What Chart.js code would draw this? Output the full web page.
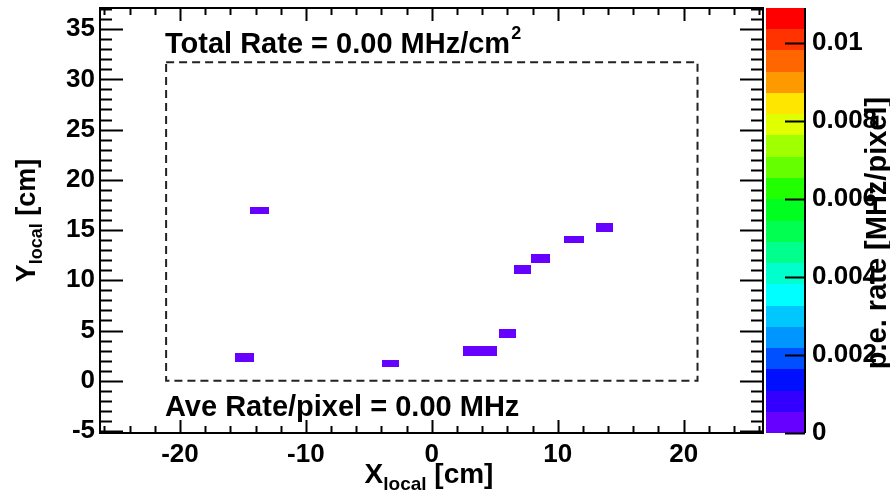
<!DOCTYPE html>
<html><head><meta charset="utf-8">
<script src="https://cdn.jsdelivr.net/npm/chart.js@4"></script>
<style>html,body{margin:0;padding:0;background:#fff}canvas{display:block}</style>
</head><body>
<canvas id="c" width="890" height="490"></canvas>
<script>
// ---- axis tick labels ----
const xTicks = [-20, -10, 0, 10, 20];
const yTicks = [-5, 0, 5, 10, 15, 20, 25, 30, 35];
const zTicks = [0, 0.002, 0.004, 0.006, 0.008, 0.01];
const zTickLabels = ['0', '0.002', '0.004', '0.006', '0.008', '0.01'];

// ---- fired pixels (bin edges in cm) and their p.e. rate [MHz/pixel] ----
const binXLow  = [-14.45, -15.6, -3.95, 2.5, 3.85, 5.35, 6.5, 7.85, 10.5, 13.0];
const binXHigh = [-12.9, -14.1, -2.6, 3.85, 5.2, 6.7, 7.85, 9.35, 12.05, 14.35];
const binYLow  = [16.6, 1.85, 1.4, 2.5, 2.5, 4.3, 10.62, 11.72, 13.7, 14.8];
const binYHigh = [17.25, 2.75, 2.08, 3.42, 3.42, 5.17, 11.52, 12.6, 14.37, 15.68];
const binRate  = [0.0001, 0.0001, 0.0001, 0.0001, 0.0001, 0.0001, 0.0001, 0.0001, 0.0001, 0.0001];

// ---- detector outline (cm) ----
const boxX = [-21.1, 21.1];
const boxY = [0, 31.7];

// ---- annotations ----
const totalRateText = ['Total Rate = 0.00 MHz/cm', '2'];
const aveRateText = 'Ave Rate/pixel = 0.00 MHz';
const xTitle = ['X', 'local', ' [cm]'];
const yTitle = ['Y', 'local', ' [cm]'];
const zTitle = 'p.e. rate [MHz/pixel]';

// ---- palette (bottom to top, 20 contours) ----
const paletteColors = ['#6600ff', '#3300ff', '#0010ff', '#0050ff', '#0096ff', '#00c8ff', '#00ffff', '#00ffcc', '#00ff8c', '#00ff50',
  '#00ff20', '#22ff00', '#66ff00', '#a0ff00', '#e0ff00', '#ffe600', '#ff9900', '#ff6600', '#ff3300', '#ff0000'];
const zMax = 0.01089;

const FONT = "'Liberation Sans', Arial, Helvetica, sans-serif";

function colorFor(v) {
  const idx = Math.max(0, Math.min(paletteColors.length - 1, Math.floor(v / zMax * paletteColors.length)));
  return paletteColors[idx];
}

function drawPieces(ctx, pieces, startX, baseY) {
  let cx = startX;
  for (const [t, size, dy] of pieces) {
    ctx.font = 'bold ' + size + 'px ' + FONT;
    ctx.fillText(t, cx, baseY + dy);
    cx += ctx.measureText(t).width;
  }
  return cx - startX;
}
function piecesWidth(ctx, pieces) {
  let w = 0;
  for (const [t, size] of pieces) { ctx.font = 'bold ' + size + 'px ' + FONT; w += ctx.measureText(t).width; }
  return w;
}

const rootStyle = {
  id: 'rootStyle',
  afterDraw(chart) {
    const {ctx, chartArea: a, scales: {x, y, z}} = chart;
    ctx.save();
    // bins
    for (let i = 0; i < binXLow.length; i++) {
      const px0 = Math.round(x.getPixelForValue(binXLow[i])), px1 = Math.round(x.getPixelForValue(binXHigh[i]));
      const py0 = Math.round(y.getPixelForValue(binYHigh[i])), py1 = Math.round(y.getPixelForValue(binYLow[i]));
      ctx.fillStyle = colorFor(binRate[i]);
      ctx.fillRect(px0, py0, px1 - px0, py1 - py0);
    }
    // dashed outline
    ctx.setLineDash([8, 5]);
    ctx.lineWidth = 2;
    ctx.strokeStyle = '#222';
    const bx0 = x.getPixelForValue(boxX[0]), bx1 = x.getPixelForValue(boxX[1]);
    const by0 = y.getPixelForValue(boxY[1]), by1 = y.getPixelForValue(boxY[0]);
    ctx.strokeRect(bx0, by0, bx1 - bx0, by1 - by0);
    ctx.setLineDash([]);

    // ticks (inside frame)
    ctx.strokeStyle = '#000';
    ctx.lineWidth = 2;
    ctx.beginPath();
    for (let v = Math.ceil(x.min); v <= x.max; v++) {
      if (v % 2 !== 0) continue;
      const px = Math.round(x.getPixelForValue(v)) + 0.5;
      const len = (v % 10 === 0) ? 13 : 7;
      ctx.moveTo(px, a.bottom); ctx.lineTo(px, a.bottom - len);
      ctx.moveTo(px, a.top); ctx.lineTo(px, a.top + len);
    }
    for (let v = Math.ceil(y.min); v <= y.max; v++) {
      const py = Math.round(y.getPixelForValue(v)) + 0.5;
      const len = (v % 5 === 0) ? 23 : 12;
      ctx.moveTo(a.left, py); ctx.lineTo(a.left + len, py);
      ctx.moveTo(a.right, py); ctx.lineTo(a.right - len, py);
    }
    ctx.stroke();
    // frame
    ctx.strokeRect(a.left, a.top, a.right - a.left, a.bottom - a.top);

    // palette
    const pl = a.right + 3, pr = a.right + 42;
    const n = paletteColors.length;
    for (let i = 0; i < n; i++) {
      const yb = z.getPixelForValue(zMax * i / n), yt = z.getPixelForValue(zMax * (i + 1) / n);
      ctx.fillStyle = paletteColors[i];
      ctx.fillRect(pl, Math.round(yt), pr - pl, Math.round(yb) - Math.round(yt));
    }
    ctx.beginPath();
    ctx.moveTo(pr, z.top); ctx.lineTo(pr, z.bottom);
    for (const v of zTicks) {
      const py = Math.round(z.getPixelForValue(v)) + 0.5;
      ctx.moveTo(pr, py); ctx.lineTo(pr - 20, py);
    }
    ctx.stroke();

    // texts
    ctx.fillStyle = '#000';
    ctx.textBaseline = 'alphabetic';
    ctx.textAlign = 'left';
    const w1 = drawPieces(ctx, [[totalRateText[0], 29, 0]], 165, 53);
    drawPieces(ctx, [[totalRateText[1], 18, 0]], 165 + w1 + 1, 39);
    drawPieces(ctx, [[aveRateText, 29, 0]], 165, 416);

    const xp = [[xTitle[0], 28, 0], [xTitle[1], 19, 7], [xTitle[2], 28, 0]];
    const xw = piecesWidth(ctx, xp);
    drawPieces(ctx, xp, 429 - xw / 2, 483);

    const yp = [[yTitle[0], 27, 0], [yTitle[1], 18, 7], [yTitle[2], 27, 0]];
    ctx.save();
    ctx.translate(35, (a.top + a.bottom) / 2);
    ctx.rotate(-Math.PI / 2);
    const yw = piecesWidth(ctx, yp);
    drawPieces(ctx, yp, -yw / 2, 0);
    ctx.restore();

    ctx.save();
    ctx.translate(886, 233);
    ctx.rotate(-Math.PI / 2);
    ctx.font = 'bold 29px ' + FONT;
    ctx.textAlign = 'center';
    ctx.fillText(zTitle, 0, 0);
    ctx.restore();

    ctx.restore();
  }
};

const tickFont = {family: FONT, weight: 'bold', size: 26};

new Chart(document.getElementById('c'), {
  type: 'scatter',
  data: {datasets: [{data: [], showLine: false}]},
  options: {
    responsive: false,
    animation: false,
    devicePixelRatio: 1,
    layout: {padding: {top: 8, left: 0, right: 0, bottom: 0}},
    plugins: {legend: {display: false}, tooltip: {enabled: false}},
    scales: {
      x: {
        type: 'linear', position: 'bottom', min: -26.35, max: 26.3,
        afterBuildTicks: s => { s.ticks = xTicks.map(v => ({value: v})); },
        afterFit: s => { s.height = 57; s.paddingLeft = 0; s.paddingRight = 0; },
        grid: {display: false, drawTicks: false}, border: {display: false},
        ticks: {font: tickFont, color: '#000', padding: 6, maxRotation: 0, minRotation: 0, autoSkip: false,
          callback: (v, i) => String(xTicks[i])}
      },
      y: {
        type: 'linear', position: 'left', min: -5.2, max: 37.1,
        afterBuildTicks: s => { s.ticks = yTicks.map(v => ({value: v})); },
        afterFit: s => { s.width = 100; s.paddingTop = 0; s.paddingBottom = 0; },
        grid: {display: false, drawTicks: false}, border: {display: false},
        ticks: {font: tickFont, color: '#000', padding: 5, autoSkip: false,
          callback: (v, i) => String(yTicks[i])}
      },
      z: {
        axis: 'y', type: 'linear', position: 'right', min: 0, max: zMax,
        afterBuildTicks: s => { s.ticks = zTicks.map(v => ({value: v})); },
        afterFit: s => { s.width = 127; s.paddingTop = 0; s.paddingBottom = 0; },
        grid: {display: false, drawTicks: false}, border: {display: false},
        ticks: {font: tickFont, color: '#000', padding: 49, autoSkip: false,
          callback: (v, i) => zTickLabels[i]}
      }
    }
  },
  plugins: [rootStyle]
});
</script>
</body></html>
